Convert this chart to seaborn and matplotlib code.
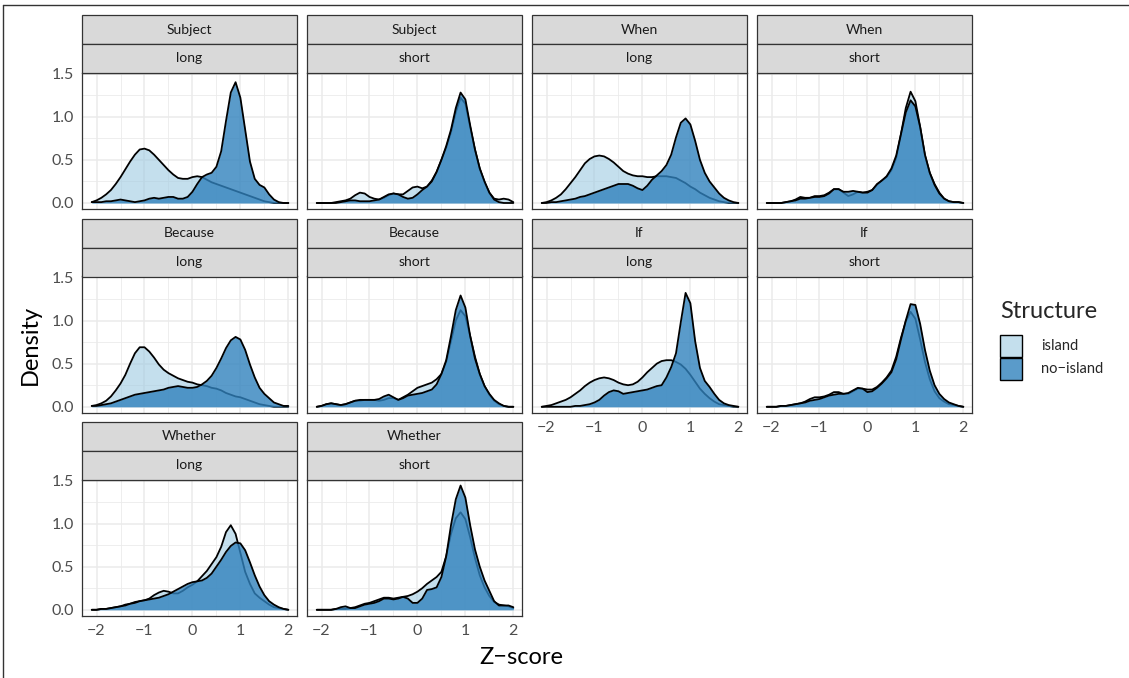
import numpy as np
import pandas as pd
import matplotlib
matplotlib.use("Agg")
import matplotlib.pyplot as plt
import seaborn as sns
from matplotlib.patches import Rectangle
from matplotlib.lines import Line2D
from matplotlib.colors import to_rgba

# ---------------- data (densities) ----------------
z_grid = [-2.1, -2.0, -1.9, -1.8, -1.7, -1.6, -1.5, -1.4, -1.3, -1.2,
          -1.1, -1.0, -0.9, -0.8, -0.7, -0.6, -0.5, -0.4, -0.3, -0.2,
          -0.1, 0.0, 0.1, 0.2, 0.3, 0.4, 0.5, 0.6, 0.7, 0.8,
          0.9, 1.0, 1.1, 1.2, 1.3, 1.4, 1.5, 1.6, 1.7, 1.8,
          1.9, 2.0]

constructions = ["Subject", "Subject", "When", "When", "Because", "Because",
                 "If", "If", "Whether", "Whether"]
lengths = ["long", "short", "long", "short", "long", "short",
           "long", "short", "long", "short"]
structures = ["island", "no\u2212island"]

subject_long_island = [0.01, 0.03, 0.06, 0.10, 0.15, 0.22, 0.30, 0.39, 0.48, 0.56,
                       0.62, 0.63, 0.61, 0.56, 0.50, 0.44, 0.38, 0.33, 0.29, 0.28,
                       0.28, 0.30, 0.31, 0.30, 0.27, 0.24, 0.22, 0.20, 0.18, 0.16,
                       0.14, 0.12, 0.10, 0.08, 0.06, 0.04, 0.02, 0.01, 0.00, 0.00,
                       0.00, 0.00]
subject_long_noisland = [0.01, 0.01, 0.01, 0.02, 0.02, 0.03, 0.04, 0.03, 0.02, 0.01,
                         0.02, 0.03, 0.05, 0.06, 0.05, 0.06, 0.07, 0.07, 0.05, 0.05,
                         0.07, 0.13, 0.22, 0.30, 0.33, 0.35, 0.42, 0.60, 0.95, 1.28,
                         1.40, 1.22, 0.85, 0.48, 0.28, 0.21, 0.18, 0.10, 0.04, 0.01,
                         0.00, 0.00]
subject_short_island = [0.00, 0.00, 0.00, 0.00, 0.01, 0.02, 0.03, 0.05, 0.09, 0.12,
                        0.11, 0.07, 0.05, 0.04, 0.06, 0.09, 0.11, 0.10, 0.10, 0.14,
                        0.18, 0.19, 0.17, 0.19, 0.26, 0.36, 0.50, 0.64, 0.82, 1.05,
                        1.22, 1.15, 0.88, 0.62, 0.40, 0.24, 0.12, 0.05, 0.04, 0.05,
                        0.04, 0.01]
subject_short_noisland = [0.00, 0.00, 0.00, 0.00, 0.00, 0.01, 0.02, 0.03, 0.03, 0.02,
                          0.02, 0.02, 0.03, 0.04, 0.07, 0.10, 0.11, 0.10, 0.07, 0.05,
                          0.06, 0.10, 0.15, 0.19, 0.25, 0.36, 0.50, 0.66, 0.85, 1.10,
                          1.28, 1.20, 0.90, 0.62, 0.40, 0.25, 0.12, 0.04, 0.01, 0.00,
                          0.00, 0.00]
when_long_island = [0.00, 0.01, 0.03, 0.06, 0.10, 0.16, 0.23, 0.30, 0.38, 0.46,
                    0.51, 0.54, 0.55, 0.54, 0.51, 0.47, 0.42, 0.37, 0.34, 0.32,
                    0.31, 0.31, 0.30, 0.30, 0.31, 0.31, 0.31, 0.30, 0.29, 0.26,
                    0.23, 0.19, 0.16, 0.12, 0.09, 0.06, 0.04, 0.02, 0.01, 0.00,
                    0.00, 0.00]
when_long_noisland = [0.00, 0.00, 0.01, 0.01, 0.02, 0.03, 0.04, 0.05, 0.07, 0.08,
                      0.10, 0.12, 0.14, 0.16, 0.18, 0.20, 0.22, 0.22, 0.22, 0.20,
                      0.17, 0.15, 0.20, 0.27, 0.32, 0.37, 0.44, 0.56, 0.76, 0.93,
                      0.98, 0.91, 0.72, 0.50, 0.35, 0.25, 0.18, 0.11, 0.06, 0.03,
                      0.01, 0.00]
when_short_island = [0.00, 0.00, 0.00, 0.00, 0.01, 0.02, 0.04, 0.07, 0.06, 0.06,
                     0.08, 0.08, 0.09, 0.12, 0.16, 0.16, 0.12, 0.08, 0.10, 0.13,
                     0.12, 0.13, 0.15, 0.21, 0.26, 0.30, 0.38, 0.52, 0.80, 1.10,
                     1.29, 1.18, 0.88, 0.55, 0.35, 0.22, 0.12, 0.05, 0.02, 0.01,
                     0.01, 0.00]
when_short_noisland = [0.00, 0.00, 0.00, 0.00, 0.01, 0.02, 0.03, 0.05, 0.05, 0.06,
                       0.07, 0.07, 0.08, 0.11, 0.16, 0.16, 0.13, 0.13, 0.14, 0.13,
                       0.12, 0.12, 0.15, 0.22, 0.26, 0.31, 0.40, 0.55, 0.80, 1.05,
                       1.19, 1.12, 0.88, 0.56, 0.35, 0.21, 0.11, 0.05, 0.02, 0.01,
                       0.01, 0.00]
because_long_island = [0.01, 0.02, 0.04, 0.07, 0.12, 0.19, 0.27, 0.37, 0.50, 0.62,
                       0.69, 0.69, 0.64, 0.57, 0.49, 0.43, 0.39, 0.36, 0.33, 0.31,
                       0.29, 0.28, 0.26, 0.25, 0.24, 0.22, 0.21, 0.19, 0.16, 0.14,
                       0.12, 0.11, 0.09, 0.07, 0.05, 0.03, 0.02, 0.01, 0.00, 0.00,
                       0.00, 0.00]
because_long_noisland = [0.01, 0.01, 0.02, 0.03, 0.04, 0.06, 0.08, 0.10, 0.12, 0.14,
                         0.15, 0.16, 0.17, 0.18, 0.19, 0.20, 0.22, 0.23, 0.24, 0.23,
                         0.22, 0.22, 0.23, 0.26, 0.30, 0.36, 0.45, 0.56, 0.68, 0.77,
                         0.81, 0.78, 0.66, 0.49, 0.34, 0.22, 0.15, 0.10, 0.05, 0.03,
                         0.01, 0.01]
because_short_island = [0.00, 0.01, 0.03, 0.04, 0.03, 0.02, 0.03, 0.05, 0.07, 0.07,
                        0.08, 0.08, 0.08, 0.07, 0.08, 0.10, 0.10, 0.08, 0.11, 0.14,
                        0.18, 0.22, 0.24, 0.26, 0.28, 0.32, 0.38, 0.52, 0.76, 1.00,
                        1.12, 1.05, 0.82, 0.58, 0.38, 0.24, 0.14, 0.07, 0.03, 0.01,
                        0.00, 0.00]
because_short_noisland = [0.00, 0.01, 0.03, 0.04, 0.03, 0.02, 0.03, 0.05, 0.07, 0.08,
                          0.08, 0.08, 0.08, 0.09, 0.12, 0.14, 0.11, 0.08, 0.10, 0.13,
                          0.14, 0.15, 0.16, 0.18, 0.20, 0.26, 0.38, 0.54, 0.82, 1.12,
                          1.29, 1.15, 0.82, 0.56, 0.38, 0.24, 0.15, 0.08, 0.04, 0.01,
                          0.00, 0.00]
if_long_island = [0.00, 0.01, 0.02, 0.04, 0.06, 0.08, 0.11, 0.15, 0.19, 0.24,
                  0.28, 0.31, 0.33, 0.34, 0.33, 0.31, 0.28, 0.26, 0.25, 0.26,
                  0.29, 0.34, 0.40, 0.45, 0.50, 0.53, 0.54, 0.54, 0.52, 0.49,
                  0.44, 0.37, 0.29, 0.21, 0.15, 0.10, 0.06, 0.03, 0.02, 0.01,
                  0.00, 0.00]
if_long_noisland = [0.00, 0.00, 0.00, 0.00, 0.00, 0.00, 0.00, 0.01, 0.01, 0.02,
                    0.03, 0.05, 0.08, 0.13, 0.17, 0.19, 0.18, 0.15, 0.16, 0.17,
                    0.18, 0.19, 0.20, 0.22, 0.24, 0.25, 0.34, 0.46, 0.62, 0.98,
                    1.32, 1.20, 0.76, 0.45, 0.30, 0.23, 0.15, 0.08, 0.04, 0.02,
                    0.01, 0.00]
if_short_island = [0.00, 0.00, 0.00, 0.01, 0.01, 0.02, 0.03, 0.04, 0.06, 0.09,
                   0.11, 0.11, 0.12, 0.14, 0.17, 0.17, 0.15, 0.15, 0.18, 0.21,
                   0.21, 0.20, 0.20, 0.23, 0.28, 0.34, 0.42, 0.58, 0.80, 0.99,
                   1.10, 1.02, 0.78, 0.52, 0.32, 0.18, 0.10, 0.06, 0.03, 0.02,
                   0.01, 0.00]
if_short_noisland = [0.00, 0.00, 0.00, 0.01, 0.01, 0.02, 0.03, 0.04, 0.05, 0.07,
                     0.08, 0.09, 0.11, 0.13, 0.14, 0.15, 0.15, 0.16, 0.19, 0.22,
                     0.21, 0.17, 0.18, 0.22, 0.27, 0.33, 0.40, 0.55, 0.78, 1.00,
                     1.19, 1.18, 0.96, 0.66, 0.42, 0.25, 0.15, 0.09, 0.05, 0.03,
                     0.01, 0.00]
whether_long_island = [0.00, 0.00, 0.01, 0.01, 0.02, 0.03, 0.04, 0.06, 0.07, 0.09,
                       0.10, 0.11, 0.13, 0.17, 0.20, 0.22, 0.21, 0.19, 0.19, 0.22,
                       0.26, 0.29, 0.33, 0.39, 0.45, 0.53, 0.61, 0.73, 0.90, 0.98,
                       0.88, 0.66, 0.44, 0.30, 0.19, 0.14, 0.10, 0.06, 0.03, 0.02,
                       0.01, 0.00]
whether_long_noisland = [0.00, 0.00, 0.01, 0.01, 0.02, 0.03, 0.04, 0.05, 0.07, 0.08,
                         0.10, 0.11, 0.12, 0.13, 0.14, 0.16, 0.18, 0.21, 0.24, 0.27,
                         0.30, 0.32, 0.33, 0.34, 0.37, 0.42, 0.50, 0.58, 0.67, 0.74,
                         0.78, 0.77, 0.69, 0.55, 0.40, 0.27, 0.17, 0.10, 0.06, 0.03,
                         0.01, 0.00]
whether_short_island = [0.00, 0.00, 0.00, 0.00, 0.01, 0.01, 0.01, 0.02, 0.03, 0.05,
                        0.07, 0.08, 0.10, 0.12, 0.14, 0.14, 0.13, 0.14, 0.15, 0.16,
                        0.18, 0.21, 0.25, 0.30, 0.34, 0.38, 0.44, 0.62, 0.88, 1.06,
                        1.13, 1.05, 0.84, 0.60, 0.40, 0.26, 0.16, 0.09, 0.06, 0.05,
                        0.04, 0.02]
whether_short_noisland = [0.00, 0.00, 0.00, 0.00, 0.01, 0.03, 0.04, 0.02, 0.02, 0.04,
                          0.06, 0.07, 0.08, 0.10, 0.13, 0.13, 0.12, 0.13, 0.15, 0.13,
                          0.08, 0.08, 0.13, 0.23, 0.24, 0.26, 0.38, 0.62, 0.98, 1.28,
                          1.44, 1.30, 0.98, 0.70, 0.50, 0.34, 0.22, 0.10, 0.05, 0.05,
                          0.05, 0.03]

island_curves = [subject_long_island, subject_short_island, when_long_island,
                 when_short_island, because_long_island, because_short_island,
                 if_long_island, if_short_island, whether_long_island,
                 whether_short_island]
noisland_curves = [subject_long_noisland, subject_short_noisland, when_long_noisland,
                   when_short_noisland, because_long_noisland, because_short_noisland,
                   if_long_noisland, if_short_noisland, whether_long_noisland,
                   whether_short_noisland]

x_ticks = [-2, -1, 0, 1, 2]
x_tick_labels = ["\u22122", "\u22121", "0", "1", "2"]
y_ticks = [0.0, 0.5, 1.0, 1.5]
y_tick_labels = ["0.0", "0.5", "1.0", "1.5"]

rows = []
for i in range(len(constructions)):
    for s, curves in zip(structures, [island_curves, noisland_curves]):
        for zx, d in zip(z_grid, curves[i]):
            rows.append({"panel": i, "construction": constructions[i],
                         "length": lengths[i], "Structure": s,
                         "z": zx, "density": d})
df = pd.DataFrame(rows)

# ---------------- styling ----------------
sns.set_theme(style="white")
plt.rcParams["font.family"] = ["Lato", "DejaVu Sans"]

fill_colors = {"island": ("#9ecae1", 0.6), "no\u2212island": ("#3182bd", 0.8)}

W, H = 1129, 678
fig = plt.figure(figsize=(W / 100, H / 100), dpi=100)


def frect(left, top, w, h):
    return [left / W, 1 - (top + h) / H, w / W, h / H]


col_left = [81.7, 306.7, 531.7, 756.7]
row_top = [72.7, 276.5, 479.5]
pw, ph = 215.0, 136.5
strip_h = 28.7

for i in range(len(constructions)):
    r, c = divmod(i, 4)
    ax = fig.add_axes(frect(col_left[c], row_top[r], pw, ph))
    sub = df[df["panel"] == i]
    for k, s in enumerate(structures):
        d = sub[sub["Structure"] == s]
        col, a = fill_colors[s]
        ax.fill_between(d["z"], 0, d["density"], color=col, alpha=a, lw=0,
                        zorder=2 + 2 * k)
        sns.lineplot(data=d, x="z", y="density", ax=ax, color="black",
                     lw=1.3, zorder=3 + 2 * k, sort=True, estimator=None,
                     solid_joinstyle="round")
    ax.set_xlim(-2.31, 2.175)
    ax.set_ylim(-0.072, 1.51)
    ax.set_xticks(x_ticks)
    ax.set_xticks([-1.5, -0.5, 0.5, 1.5], minor=True)
    ax.set_yticks(y_ticks)
    ax.set_yticks([0.25, 0.75, 1.25], minor=True)
    ax.grid(which="major", color="#ebebeb", lw=1.1, zorder=0)
    ax.grid(which="minor", color="#ebebeb", lw=0.6, zorder=0)
    ax.set_axisbelow(True)
    for sp in ax.spines.values():
        sp.set_color("#333333")
        sp.set_linewidth(0.9)
    ax.tick_params(which="minor", length=0)
    ax.tick_params(which="major", direction="out", length=3.5, width=0.8,
                   color="#333333", labelsize=11.5, labelcolor="#4d4d4d", pad=2)
    ax.set_xlabel("")
    ax.set_ylabel("")
    if c == 0:
        ax.set_yticklabels(y_tick_labels)
    else:
        ax.tick_params(axis="y", length=0, labelleft=False)
    bottom = (r == 2) or (r == 1 and c >= 2)
    if bottom:
        ax.set_xticklabels(x_tick_labels)
    else:
        ax.tick_params(axis="x", length=0, labelbottom=False)

    # two-level strips
    for k, label in enumerate([constructions[i], lengths[i]]):
        top = row_top[r] - 2 * strip_h + k * strip_h
        rect = Rectangle((col_left[c] / W, 1 - (top + strip_h) / H), pw / W, strip_h / H,
                         transform=fig.transFigure, facecolor="#d9d9d9",
                         edgecolor="#333333", lw=0.9)
        fig.add_artist(rect)
        fig.text((col_left[c] + pw / 2) / W, 1 - (top + strip_h / 2) / H, label,
                 ha="center", va="center", fontsize=10, color="#1a1a1a")

# axis titles
fig.text(30 / W, 1 - 345 / H, "Density", rotation=90, ha="center", va="center",
         fontsize=17, color="black")
fig.text(521 / W, 1 - 657 / H, "Z\u2212score", ha="center", va="center",
         fontsize=17, color="black")

# legend
fig.text(1000 / W, 1 - 311 / H, "Structure", ha="left", va="center", fontsize=17)
for k, s in enumerate(structures):
    col, a = fill_colors[s]
    top = 335 + k * 23
    fig.add_artist(Rectangle((1000 / W, 1 - (top + 22) / H), 22 / W, 22 / H,
                             transform=fig.transFigure, facecolor=to_rgba(col, a),
                             edgecolor="black", lw=1.0))
    fig.text(1041 / W, 1 - (top + 11) / H, s, ha="left", va="center", fontsize=10.5)

# outer frame lines (top and left)
fig.add_artist(Line2D([3 / W, 1], [1 - 5 / H, 1 - 5 / H], color="#333333", lw=1,
                      transform=fig.transFigure))
fig.add_artist(Line2D([3 / W, 3 / W], [0, 1 - 5 / H], color="#333333", lw=1,
                      transform=fig.transFigure))

fig.savefig("out.png", dpi=100)
